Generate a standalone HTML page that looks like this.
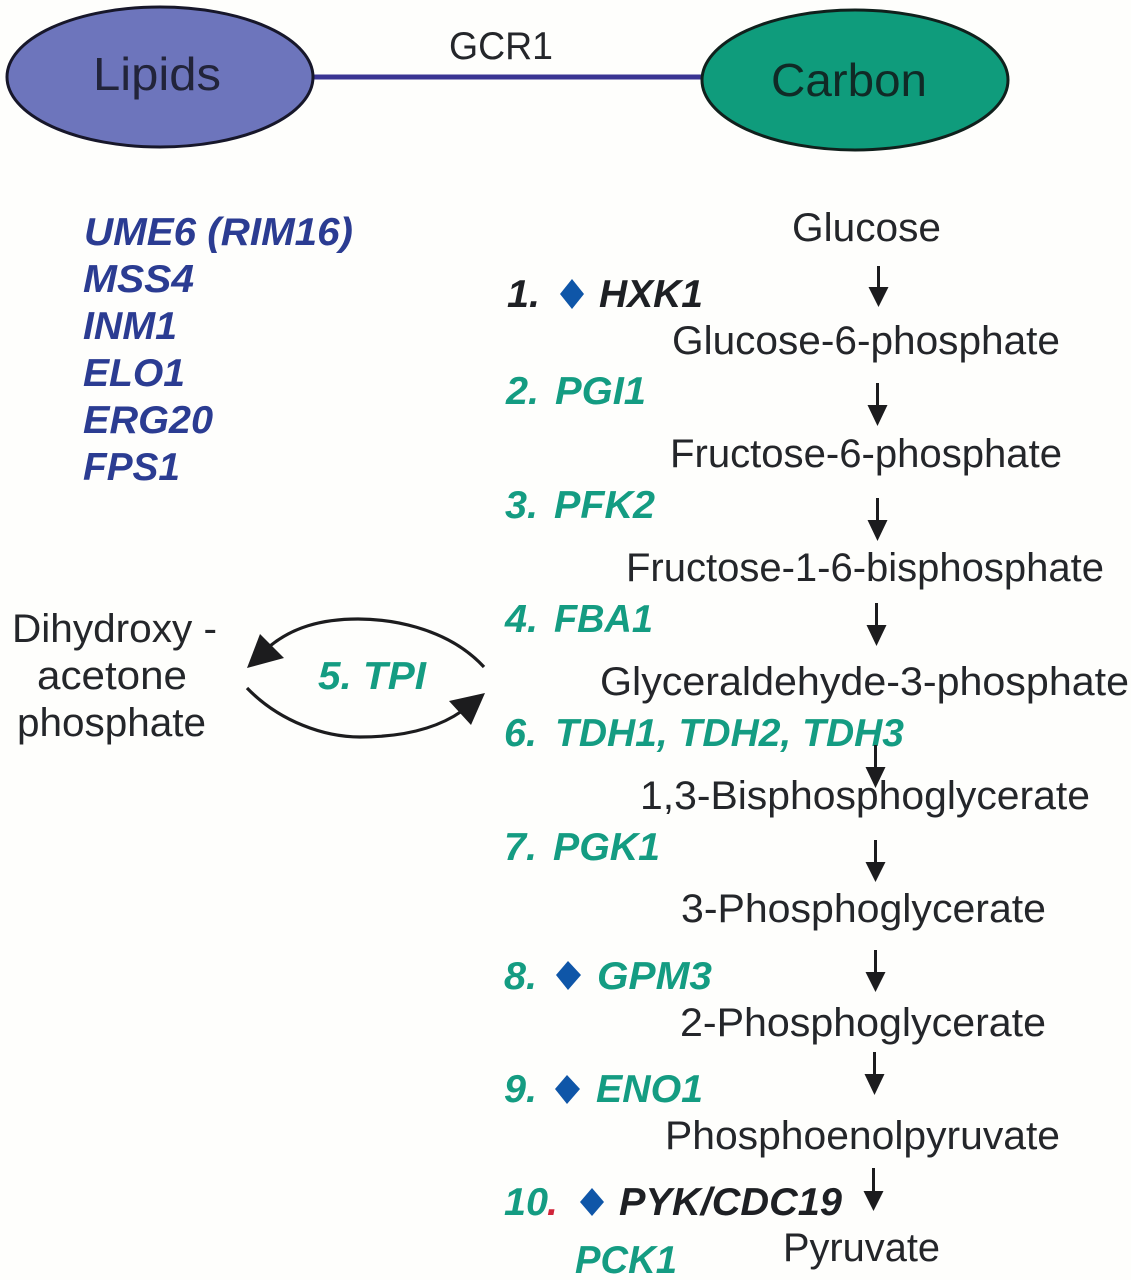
<!DOCTYPE html>
<html><head><meta charset="utf-8"><style>
html,body{margin:0;padding:0;background:#fefefc}
svg{display:block}
text{font-family:"Liberation Sans",sans-serif}
.m{font-size:40px;fill:#24262a}
.g{font-size:39px;font-weight:bold;font-style:italic}
.t{fill:#149c82}.k{fill:#1e2024}.n{fill:#2b3c92}
.d{fill:#0f56a8}
</style></head><body>
<svg width="1131" height="1280" viewBox="0 0 1131 1280" xmlns="http://www.w3.org/2000/svg">
<rect width="1131" height="1280" fill="#fefefc"/>
<line x1="310" y1="77" x2="705" y2="77" stroke="#3a3493" stroke-width="5"/>
<ellipse cx="160" cy="77" rx="153" ry="70" fill="#6d75bc" stroke="#17172a" stroke-width="3"/>
<ellipse cx="855" cy="80" rx="153" ry="70" fill="#0f9c7c" stroke="#10201c" stroke-width="3"/>
<text x="93" y="90" font-size="46" fill="#22243a" textLength="128" lengthAdjust="spacingAndGlyphs">Lipids</text>
<text x="771" y="96" font-size="46" fill="#102a26" textLength="156" lengthAdjust="spacingAndGlyphs">Carbon</text>
<text x="449" y="59" font-size="39" fill="#24262a" textLength="104" lengthAdjust="spacingAndGlyphs">GCR1</text>

<g class="g n">
<text x="84" y="245" textLength="269" lengthAdjust="spacingAndGlyphs">UME6 (RIM16)</text>
<text x="83" y="292" textLength="111" lengthAdjust="spacingAndGlyphs">MSS4</text>
<text x="83" y="339" textLength="94" lengthAdjust="spacingAndGlyphs">INM1</text>
<text x="83" y="386" textLength="102" lengthAdjust="spacingAndGlyphs">ELO1</text>
<text x="83" y="433" textLength="130" lengthAdjust="spacingAndGlyphs">ERG20</text>
<text x="83" y="480" textLength="97" lengthAdjust="spacingAndGlyphs">FPS1</text>
</g>

<g class="m">
<text x="792" y="241" textLength="149" lengthAdjust="spacingAndGlyphs">Glucose</text>
<text x="672" y="354" textLength="388" lengthAdjust="spacingAndGlyphs">Glucose-6-phosphate</text>
<text x="670" y="467" textLength="392" lengthAdjust="spacingAndGlyphs">Fructose-6-phosphate</text>
<text x="626" y="581" textLength="478" lengthAdjust="spacingAndGlyphs">Fructose-1-6-bisphosphate</text>
<text x="600" y="695" textLength="529" lengthAdjust="spacingAndGlyphs">Glyceraldehyde-3-phosphate</text>
<text x="640" y="809" textLength="450" lengthAdjust="spacingAndGlyphs">1,3-Bisphosphoglycerate</text>
<text x="681" y="922" textLength="365" lengthAdjust="spacingAndGlyphs">3-Phosphoglycerate</text>
<text x="680" y="1036" textLength="366" lengthAdjust="spacingAndGlyphs">2-Phosphoglycerate</text>
<text x="665" y="1149" textLength="395" lengthAdjust="spacingAndGlyphs">Phosphoenolpyruvate</text>
<text x="783" y="1261" textLength="157" lengthAdjust="spacingAndGlyphs">Pyruvate</text>
<text x="12" y="642" textLength="205" lengthAdjust="spacingAndGlyphs">Dihydroxy -</text>
<text x="37" y="689" textLength="150" lengthAdjust="spacingAndGlyphs">acetone</text>
<text x="17" y="736" textLength="189" lengthAdjust="spacingAndGlyphs">phosphate</text>
</g>

<g class="g t">
<text class="g k" x="507" y="307" textLength="33" lengthAdjust="spacingAndGlyphs">1.</text>
<text class="g k" x="599" y="307" textLength="104" lengthAdjust="spacingAndGlyphs">HXK1</text>
<text x="506" y="404" textLength="33" lengthAdjust="spacingAndGlyphs">2.</text>
<text x="555" y="404" textLength="91" lengthAdjust="spacingAndGlyphs">PGI1</text>
<text x="505" y="518" textLength="33" lengthAdjust="spacingAndGlyphs">3.</text>
<text x="554" y="518" textLength="101" lengthAdjust="spacingAndGlyphs">PFK2</text>
<text x="505" y="632" textLength="33" lengthAdjust="spacingAndGlyphs">4.</text>
<text x="554" y="632" textLength="99" lengthAdjust="spacingAndGlyphs">FBA1</text>
<text x="504" y="746" textLength="33" lengthAdjust="spacingAndGlyphs">6.</text>
<text x="555" y="746" textLength="349" lengthAdjust="spacingAndGlyphs">TDH1, TDH2, TDH3</text>
<text x="504" y="860" textLength="33" lengthAdjust="spacingAndGlyphs">7.</text>
<text x="553" y="860" textLength="107" lengthAdjust="spacingAndGlyphs">PGK1</text>
<text x="504" y="989" textLength="33" lengthAdjust="spacingAndGlyphs">8.</text>
<text x="597" y="989" textLength="115" lengthAdjust="spacingAndGlyphs">GPM3</text>
<text x="504" y="1102" textLength="33" lengthAdjust="spacingAndGlyphs">9.</text>
<text x="596" y="1102" textLength="107" lengthAdjust="spacingAndGlyphs">ENO1</text>
<text x="504" y="1215" textLength="44" lengthAdjust="spacingAndGlyphs">10</text>
<text x="547" y="1215" style="fill:#d0253a">.</text>
<text class="g k" x="619" y="1215" textLength="223" lengthAdjust="spacingAndGlyphs">PYK/CDC19</text>
<text x="575" y="1273" textLength="102" lengthAdjust="spacingAndGlyphs">PCK1</text>
<text x="318" y="689" textLength="108" lengthAdjust="spacingAndGlyphs">5. TPI</text>
</g>

<polygon class="d" points="572,279 584,294 572,309 560,294"/>
<polygon class="d" points="568,961 581,975 568,990 556,975"/>
<polygon class="d" points="567,1075 580,1089 567,1104 555,1089"/>
<polygon class="d" points="592,1188 604,1202 592,1216 580,1202"/>

<g fill="#1c1c1e" stroke="none">
<path d="M877 266h3v21h8.500l-10 20-10-20h8.500z"/>
<path d="M876 383h3v22h8.500l-10 21-10-21h8.500z"/>
<path d="M876 498h3v22h8.500l-10 21-10-21h8.500z"/>
<path d="M875 603h3v22h8.500l-10 21-10-21h8.500z"/>
<path d="M874 745h3v22h8.500l-10 21-10-21h8.500z"/>
<path d="M874 840h3v22h8.500l-10 20-10-20h8.500z"/>
<path d="M874 950h3v22h8.500l-10 20-10-20h8.500z"/>
<path d="M873 1052h3v22h8.500l-10 21-10-21h8.500z"/>
<path d="M872 1168h3v23h8.500l-10 20-10-20h8.500z"/>
<polygon points="247,668 260,634 284,658"/>
<polygon points="485,693 449,701 471,725"/>
</g>
<path d="M484 667C445 625 385 619 358 619C320 619 292 628 270 646" fill="none" stroke="#1c1c1e" stroke-width="3.200"/>
<path d="M247 688C280 722 325 737 360 737C400 737 435 730 462 711" fill="none" stroke="#1c1c1e" stroke-width="3.200"/>
</svg>
</body></html>
